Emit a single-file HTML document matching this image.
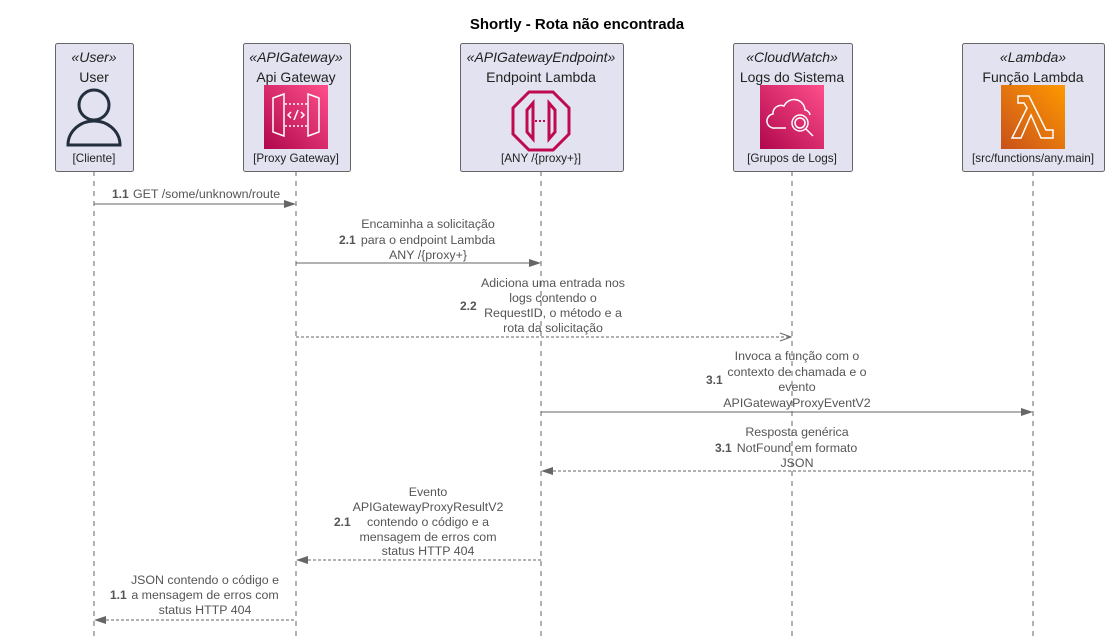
<!DOCTYPE html>
<html><head><meta charset="utf-8"><style>
html,body{margin:0;padding:0;background:#fff;}
svg{display:block;font-family:"Liberation Sans",sans-serif;}
.st{font-style:italic;font-size:14px;fill:#222;text-anchor:middle}
.nm{font-size:14px;fill:#222;text-anchor:middle}
.br{font-size:11.7px;fill:#222;text-anchor:middle}
.m{font-size:12.4px;fill:#555;text-anchor:middle}
.n{font-size:12px;fill:#555;font-weight:bold;text-anchor:start}
.ll{stroke:#666;stroke-dasharray:5,5;stroke-width:1}
.box{fill:#e2e2f0;stroke:#666;stroke-width:1}
</style></head><body>
<svg width="1110" height="644" viewBox="0 0 1110 644">
<defs>
<linearGradient id="pk" x1="0" y1="1" x2="1" y2="0"><stop offset="0" stop-color="#b0084d"/><stop offset="1" stop-color="#ff4f8b"/></linearGradient>
<linearGradient id="or" x1="0" y1="1" x2="1" y2="0"><stop offset="0" stop-color="#c8511b"/><stop offset="1" stop-color="#ff9900"/></linearGradient>
</defs>
<text x="577" y="29" font-size="15" font-weight="bold" text-anchor="middle" fill="#000">Shortly - Rota não encontrada</text>
<line class="ll" x1="94" y1="171" x2="94" y2="640"/>
<line class="ll" x1="296" y1="171" x2="296" y2="640"/>
<line class="ll" x1="541" y1="171" x2="541" y2="640"/>
<line class="ll" x1="792" y1="171" x2="792" y2="640"/>
<line class="ll" x1="1033" y1="171" x2="1033" y2="640"/>

<rect class="box" x="55.5" y="43.5" width="78" height="128" rx="2"/>
<text class="st" x="94" y="62">«User»</text>
<text class="nm" x="94" y="82">User</text>
<circle cx="94" cy="105" r="15" fill="none" stroke="#232f3e" stroke-width="3"/>
<path d="M68 145 A26 24 0 0 1 120 145 Z" fill="none" stroke="#232f3e" stroke-width="3"/>
<text class="br" x="94" y="162">[Cliente]</text>

<rect class="box" x="243.5" y="43.5" width="107" height="128" rx="2"/>
<text class="st" x="296" y="62">«APIGateway»</text>
<text class="nm" x="296" y="82">Api Gateway</text>
<rect x="264" y="85" width="64" height="64" fill="url(#pk)"/>
<g stroke="#fff" stroke-width="1.5" fill="none">
<path d="M273 98 L284 94 L284 136 L273 132 Z"/><path d="M319 98 L308 94 L308 136 L319 132 Z"/>
<path d="M285 104 H307 M285 126 H307" stroke-dasharray="2,2"/>
<path d="M291 112 L288 115 L291 118 M301 112 L304 115 L301 118 M298 110 L294 120"/>
</g>
<text class="br" x="296" y="162">[Proxy Gateway]</text>

<rect class="box" x="460.5" y="43.5" width="163" height="128" rx="2"/>
<text class="st" x="541" y="62">«APIGatewayEndpoint»</text>
<text class="nm" x="541" y="82">Endpoint Lambda</text>
<g stroke="#bf0a4f" stroke-width="3" fill="none">
<polygon points="529,92 553,92 569,108 569,134 553,150 529,150 513,134 513,108"/>
<path d="M533 103 L527 110 L527 132 L533 139 Z"/><path d="M549 103 L555 110 L555 132 L549 139 Z"/>
<path d="M535 121 H547" stroke-dasharray="2,2" stroke-width="2"/>
</g>
<text class="br" x="541" y="162">[ANY /{proxy+}]</text>

<rect class="box" x="733.5" y="43.5" width="119" height="128" rx="2"/>
<text class="st" x="792" y="62">«CloudWatch»</text>
<text class="nm" x="792" y="82">Logs do Sistema</text>
<rect x="760" y="85" width="64" height="64" fill="url(#pk)"/>
<g stroke="#fff" stroke-width="1.5" fill="none">
<path d="M786 128 H775 A7 7 0 0 1 773 114 A8 8 0 0 1 784 106 A11 11 0 0 1 805 110 A6 6 0 0 1 810 115"/>
<circle cx="800" cy="123" r="8"/><circle cx="800" cy="123" r="5"/><path d="M806 129 L813 136"/>
</g>
<text class="br" x="792" y="162">[Grupos de Logs]</text>

<rect class="box" x="962.5" y="43.5" width="142" height="128" rx="2"/>
<text class="st" x="1033" y="62">«Lambda»</text>
<text class="nm" x="1033" y="82">Função Lambda</text>
<rect x="1001" y="85" width="64" height="64" fill="url(#or)"/>
<g stroke="#fff" stroke-width="1.5" fill="none">
<path d="M1018 96 H1029 L1046 130 H1053 V138 H1041 L1031 115 L1021 138 H1012 L1027 108 L1024 103 H1018 Z"/>
</g>
<text class="br" x="1033" y="162">[src/functions/any.main]</text>

<!-- 1.1 -->
<line x1="94" y1="204" x2="294" y2="204" stroke="#666"/>
<polygon points="296,204 284,200 284,208" fill="#666"/>
<text class="n" x="112" y="198">1.1</text>
<text class="m" x="133" y="198" style="text-anchor:start">GET /some/unknown/route</text>

<!-- 2.1 -->
<line x1="296" y1="263" x2="539" y2="263" stroke="#666"/>
<polygon points="541,263 529,259 529,267" fill="#666"/>
<text class="n" x="339" y="244">2.1</text>
<text class="m" x="428" y="228">Encaminha a solicitação</text>
<text class="m" x="428" y="244">para o endpoint Lambda</text>
<text class="m" x="428" y="259">ANY /{proxy+}</text>

<!-- 2.2 -->
<line x1="296" y1="337" x2="790" y2="337" stroke="#666" stroke-dasharray="3,2"/>
<polyline points="780,333 791,337 780,341" fill="none" stroke="#666"/>
<text class="n" x="460" y="310">2.2</text>
<text class="m" x="553" y="287">Adiciona uma entrada nos</text>
<text class="m" x="553" y="302">logs contendo o</text>
<text class="m" x="553" y="317">RequestID, o método e a</text>
<text class="m" x="553" y="332">rota da solicitação</text>

<!-- 3.1 -->
<line x1="541" y1="412" x2="1031" y2="412" stroke="#666"/>
<polygon points="1033,412 1021,408 1021,416" fill="#666"/>
<text class="n" x="706" y="384">3.1</text>
<text class="m" x="797" y="360">Invoca a função com o</text>
<text class="m" x="797" y="376">contexto de chamada e o</text>
<text class="m" x="797" y="391">evento</text>
<text class="m" x="797" y="407">APIGatewayProxyEventV2</text>

<!-- 3.1 return -->
<line x1="543" y1="471" x2="1033" y2="471" stroke="#666" stroke-dasharray="3,2"/>
<polygon points="541,471 553,467 553,475" fill="#666"/>
<text class="n" x="715" y="452">3.1</text>
<text class="m" x="797" y="436">Resposta genérica</text>
<text class="m" x="797" y="452">NotFound em formato</text>
<text class="m" x="797" y="467">JSON</text>

<!-- 2.1 return -->
<line x1="298" y1="560" x2="541" y2="560" stroke="#666" stroke-dasharray="3,2"/>
<polygon points="296,560 308,556 308,564" fill="#666"/>
<text class="n" x="334" y="526">2.1</text>
<text class="m" x="428" y="496">Evento</text>
<text class="m" x="428" y="511">APIGatewayProxyResultV2</text>
<text class="m" x="428" y="526">contendo o código e a</text>
<text class="m" x="428" y="541">mensagem de erros com</text>
<text class="m" x="428" y="555">status HTTP 404</text>

<!-- 1.1 return -->
<line x1="96" y1="620" x2="296" y2="620" stroke="#666" stroke-dasharray="3,2"/>
<polygon points="94,620 106,616 106,624" fill="#666"/>
<text class="n" x="110" y="599">1.1</text>
<text class="m" x="205" y="584">JSON contendo o código e</text>
<text class="m" x="205" y="599">a mensagem de erros com</text>
<text class="m" x="205" y="614">status HTTP 404</text>
</svg>
</body></html>
